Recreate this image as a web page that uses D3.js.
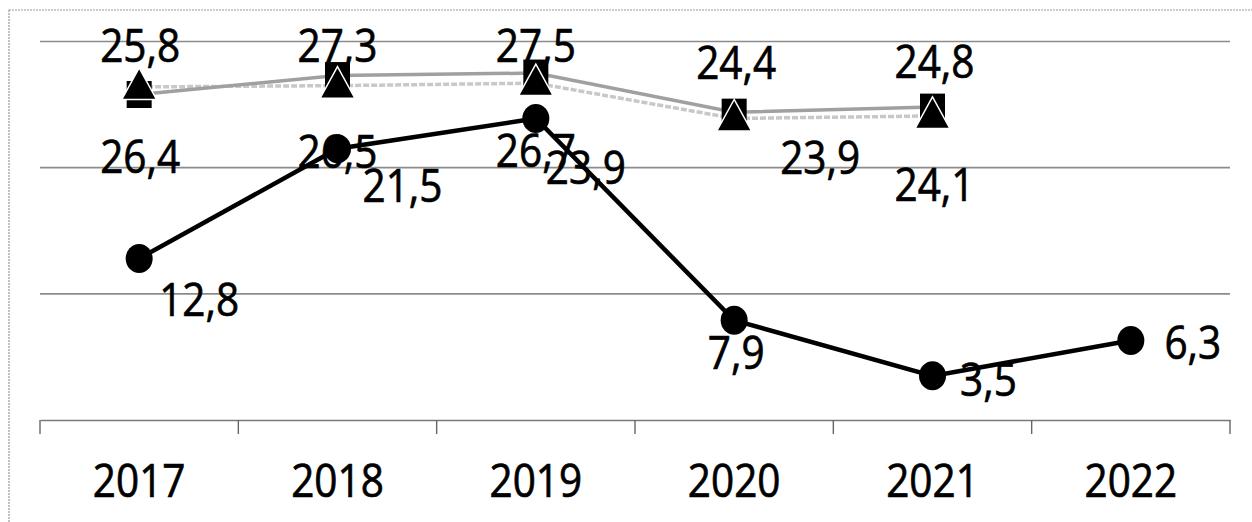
<!DOCTYPE html>
<html>
<head>
<meta charset="utf-8">
<script src="https://cdn.jsdelivr.net/npm/d3@7/dist/d3.min.js"></script>
<style>
  html, body { margin: 0; padding: 0; background: #fff; }
  svg { display: block; }
  text { font-family: "Open Sans", "Noto Sans", "Liberation Sans", sans-serif; fill: #000; stroke: #000; stroke-width: 0.7px; }
</style>
</head>
<body>
<svg id="chart" width="1252" height="522"></svg>
<script>
// ---- data ----
const years = ["2017", "2018", "2019", "2020", "2021", "2022"];
const circleSeries = [12.8, 21.5, 23.9, 7.9, 3.5, 6.3];
const squareSeries = [25.8, 27.3, 27.5, 24.4, 24.8, null];
const triangleSeries = [26.4, 26.5, 26.7, 23.9, 24.1, null];
const yTicks = [0, 10, 20, 30];

// ---- label placement (offsets of label centre from the point, px) ----
const squareLabelOffsets = [[1, -48], [0, -30], [0, -27], [2, -49], [2, -45], null];
const triangleLabelOffsets = [[1, 70], [0, 66], [0, 68], [86, 40], [2, 69], null];
const circleLabelOffsets = [[60, 41], [65, 37], [50, 50], [2, 33], [56, 4], [62, 2]];

const svg = d3.select("#chart");
const margin = { left: 40, right: 22, top: 41.5, bottom: 102 };
const W = 1252, H = 522;

const x = d3.scaleBand().domain(years).range([margin.left, W - margin.right]);
const y = d3.scaleLinear().domain([0, 30]).range([H - margin.bottom, margin.top]);
const cx = d => x(d) + x.bandwidth() / 2;

// chart border (only top & left visible in frame)
svg.append("rect")
  .attr("x", 9).attr("y", 10).attr("width", 1300).attr("height", 600)
  .attr("fill", "none").attr("stroke", "#9a9a9a").attr("stroke-width", 1.2)
  .attr("stroke-dasharray", "2,1");

// gridlines
svg.append("g").selectAll("line").data(yTicks.filter(t => t > 0)).join("line")
  .attr("x1", margin.left).attr("x2", W - margin.right)
  .attr("y1", d => y(d)).attr("y2", d => y(d))
  .attr("stroke", "#8c8c8c").attr("stroke-width", 1.6);

// x axis
const xAxis = d3.axisBottom(x).tickSize(0).tickFormat(d => d);
const gx = svg.append("g").attr("transform", `translate(0,${y(0)})`).call(xAxis);
gx.select(".domain").attr("stroke", "#7a7a7a").attr("stroke-width", 1.6);
gx.selectAll(".tick text").remove();
// category boundary ticks
const bounds = years.map(d => x(d)).concat([x(years[years.length - 1]) + x.bandwidth()]);
gx.selectAll("line.bound").data(bounds).join("line").attr("class", "bound")
  .attr("x1", d => d).attr("x2", d => d).attr("y1", 0).attr("y2", 14)
  .attr("stroke", "#666").attr("stroke-width", 1.4);
// year labels
svg.append("g").selectAll("text").data(years).join("text")
  .attr("transform", d => `translate(${cx(d)},${y(0) + 77}) scale(0.9,1)`)
  .attr("text-anchor", "middle").attr("font-size", 45)
  .text(d => d);

const fmt = v => String(v).replace(".", ",");

function labels(series, offsets) {
  const pts = years.map((d, i) => ({ d, v: series[i], o: offsets[i] })).filter(p => p.v != null);
  svg.append("g").selectAll("text").data(pts).join("text")
    .attr("transform", p => `translate(${cx(p.d) + p.o[0]},${y(p.v) + p.o[1] + 16}) scale(0.9,1)`)
    .attr("text-anchor", "middle").attr("font-size", 45)
    .text(p => fmt(p.v));
}
labels(squareSeries, squareLabelOffsets);
labels(triangleSeries, triangleLabelOffsets);
labels(circleSeries, circleLabelOffsets);

const line = d3.line().defined(p => p.v != null).x(p => cx(p.d)).y(p => y(p.v));
const pts = s => years.map((d, i) => ({ d, v: s[i] }));

// gray series lines
svg.append("path").datum(pts(triangleSeries)).attr("d", line)
  .attr("fill", "none").attr("stroke", "#c8c8c8").attr("stroke-width", 3.5)
  .attr("stroke-dasharray", "6,2");
svg.append("path").datum(pts(squareSeries)).attr("d", line)
  .attr("fill", "none").attr("stroke", "#a0a0a0").attr("stroke-width", 3.5);

// square markers
svg.append("g").selectAll("rect").data(pts(squareSeries).filter(p => p.v != null)).join("rect")
  .attr("x", p => cx(p.d) - 12.5).attr("y", p => y(p.v) - 13.5)
  .attr("width", 25).attr("height", 27).attr("fill", "#000");

// triangle markers
const tri = d3.symbol().type(d3.symbolTriangle).size(520);
svg.append("g").selectAll("path").data(pts(triangleSeries).filter(p => p.v != null)).join("path")
  .attr("transform", p => `translate(${cx(p.d)},${y(p.v) + 2}) scale(1,1.05)`)
  .attr("d", tri).attr("fill", "#000").attr("stroke", "#fff").attr("stroke-width", 1.5);

// circle series
svg.append("path").datum(pts(circleSeries)).attr("d", line)
  .attr("fill", "none").attr("stroke", "#000").attr("stroke-width", 4.5);
svg.append("g").selectAll("ellipse").data(pts(circleSeries)).join("ellipse")
  .attr("cx", p => cx(p.d)).attr("cy", p => y(p.v))
  .attr("rx", 13.5).attr("ry", 14.5).attr("fill", "#000");
</script>
</body>
</html>
